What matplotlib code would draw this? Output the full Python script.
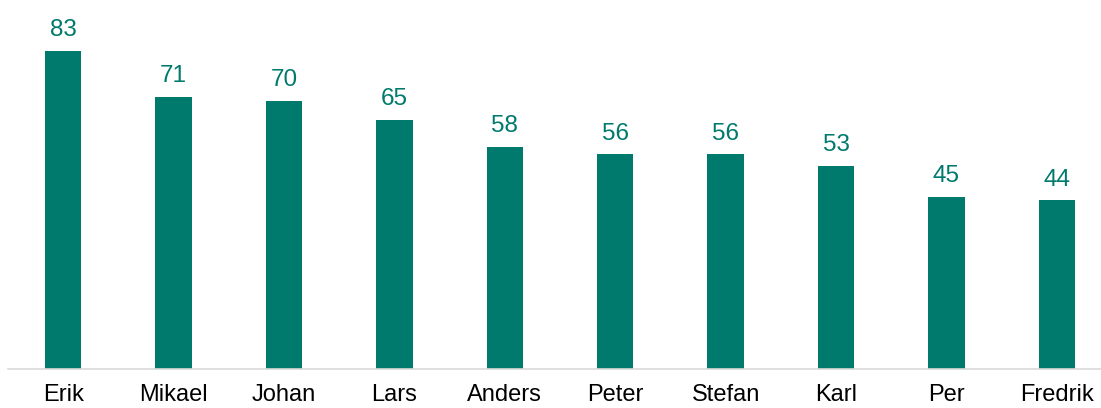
import matplotlib
matplotlib.use("Agg")
import matplotlib.pyplot as plt

# Data
names = ["Erik", "Mikael", "Johan", "Lars", "Anders", "Peter", "Stefan", "Karl", "Per", "Fredrik"]
values = [83, 71, 70, 65, 58, 56, 56, 53, 45, 44]

bar_color = "#007A6C"

plt.rcParams["font.family"] = ["Liberation Sans", "DejaVu Sans"]

fig = plt.figure(figsize=(11.01, 4.08), dpi=100)
ax = fig.add_axes([8 / 1101, 39 / 408, 1093 / 1101, 369 / 408])

x = list(range(len(names)))
bars = ax.bar(x, values, width=0.33, color=bar_color)

for xi, v in zip(x, values):
    ax.annotate(str(v), (xi, v), xytext=(0, 7), textcoords="offset points",
                ha="center", va="bottom", fontsize=17.5, color=bar_color)

ax.set_xlim(-0.5, 9.40)
ax.set_ylim(0, 96.3)
ax.set_xticks(x)
ax.set_xticklabels(names, fontsize=17)
ax.tick_params(axis="x", length=0, pad=11)
ax.set_yticks([])

for side in ["top", "right", "left"]:
    ax.spines[side].set_visible(False)
ax.spines["bottom"].set_color("#D9D9D9")
ax.spines["bottom"].set_linewidth(1.2)

fig.savefig("out.png", dpi=100)
